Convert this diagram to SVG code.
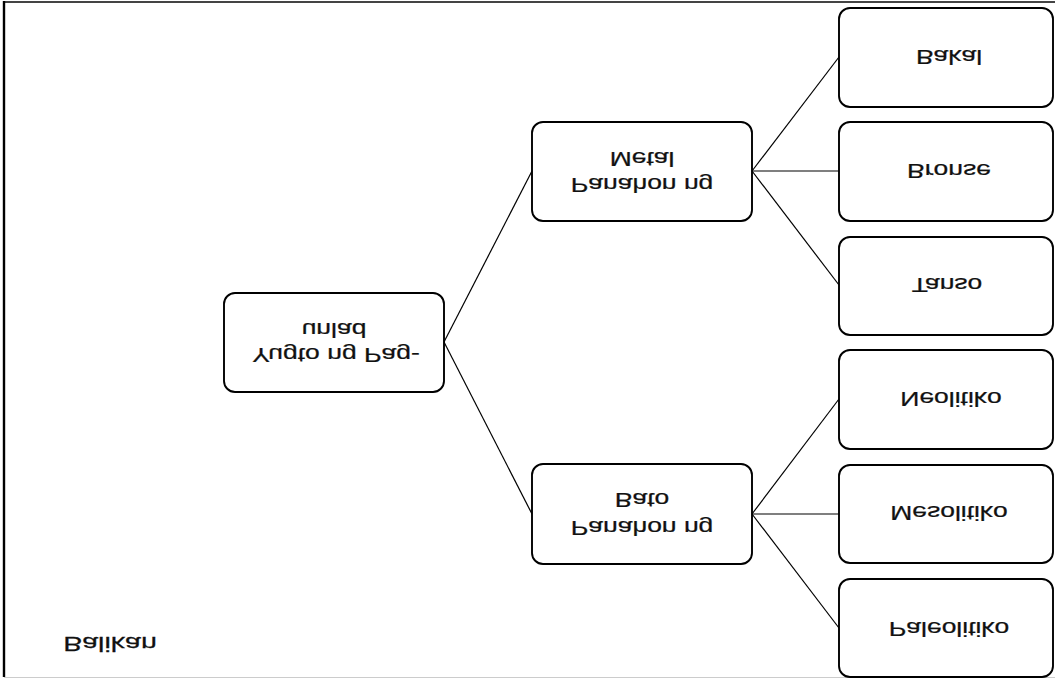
<svg xmlns="http://www.w3.org/2000/svg" width="1055" height="679" viewBox="0 0 1055 679">
<style>
.box{fill:#fff;stroke:#000;stroke-width:1.9}
.t{font-family:"Liberation Sans",Arial,sans-serif;font-size:21px;fill:#111;stroke:#111;stroke-width:0.25;text-anchor:middle}
.c{stroke:#000;stroke-width:1.2;fill:none}
</style>
<rect x="0" y="0" width="1055" height="679" fill="#fff"/>
<line x1="3" y1="2" x2="1055" y2="2" stroke="#444" stroke-width="2"/>
<line x1="4" y1="1" x2="4" y2="677" stroke="#000" stroke-width="2.4"/>
<line x1="4" y1="677.5" x2="1055" y2="677.5" stroke="#ccc" stroke-width="1.2"/>
<g id="connectors">
<line class="c" x1="444" y1="342" x2="532" y2="171"/>
<line class="c" x1="444" y1="342" x2="532" y2="514"/>
<line class="c" x1="752" y1="171" x2="839" y2="57"/>
<line class="c" x1="752" y1="171" x2="839" y2="171"/>
<line class="c" x1="752" y1="171" x2="839" y2="285"/>
<line class="c" x1="752" y1="514" x2="839" y2="399"/>
<line class="c" x1="752" y1="514" x2="839" y2="514"/>
<line class="c" x1="752" y1="514" x2="839" y2="628"/>
</g>
<g id="root">
<rect class="box" x="224" y="293" width="220" height="99" rx="11"/>
<text class="t" transform="translate(334,323) scale(1.26,-1)">unlad</text>
<text class="t" transform="translate(336,348) scale(1.26,-1)">Yugto ng Pag-</text>
</g>
<g id="metal">
<rect class="box" x="532" y="122" width="220" height="99" rx="11"/>
<text class="t" transform="translate(642,152) scale(1.26,-1)">Metal</text>
<text class="t" transform="translate(642,178) scale(1.26,-1)">Panahon ng</text>
</g>
<g id="bato">
<rect class="box" x="532" y="464" width="220" height="100" rx="11"/>
<text class="t" transform="translate(642,493) scale(1.26,-1)">Bato</text>
<text class="t" transform="translate(642,521) scale(1.26,-1)">Panahon ng</text>
</g>
<g id="bakal">
<rect class="box" x="839" y="8" width="214" height="99" rx="11"/>
<text class="t" transform="translate(949,50) scale(1.26,-1)">Bakal</text>
</g>
<g id="bronse">
<rect class="box" x="839" y="122" width="214" height="99" rx="11"/>
<text class="t" transform="translate(949,164) scale(1.26,-1)">Bronse</text>
</g>
<g id="tanso">
<rect class="box" x="839" y="237" width="214" height="98" rx="11"/>
<text class="t" transform="translate(947,278) scale(1.26,-1)">Tanso</text>
</g>
<g id="neolitiko">
<rect class="box" x="839" y="350" width="214" height="99" rx="11"/>
<text class="t" transform="translate(951,392) scale(1.26,-1)">Neolitiko</text>
</g>
<g id="mesolitiko">
<rect class="box" x="839" y="465" width="214" height="98" rx="11"/>
<text class="t" transform="translate(949,506) scale(1.26,-1)">Mesolitiko</text>
</g>
<g id="paleolitiko">
<rect class="box" x="839" y="579" width="214" height="98" rx="11"/>
<text class="t" transform="translate(949,622) scale(1.26,-1)">Paleolitiko</text>
</g>
<g id="balikan">
<text class="t" transform="translate(110,637) scale(1.36,-1)">Balikan</text>
</g>
</svg>
